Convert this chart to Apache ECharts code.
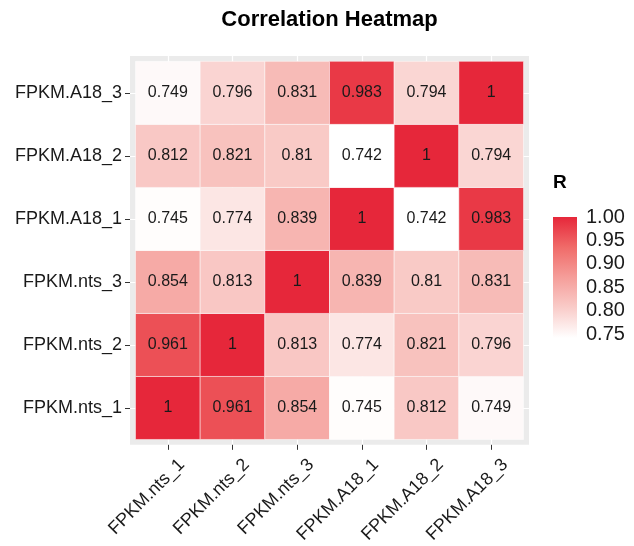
<!DOCTYPE html>
<html>
<head>
<meta charset="utf-8">
<script src="https://cdn.jsdelivr.net/npm/echarts@6/dist/echarts.min.js"></script>
<style>
  html, body { margin: 0; padding: 0; background: #ffffff; }
  #chart { width: 634px; height: 546px; }
</style>
</head>
<body>
<div id="chart"></div>
<script>
// Sample names, in axis order (bottom-to-top on y, left-to-right on x)
const samples = ['FPKM.nts_1', 'FPKM.nts_2', 'FPKM.nts_3', 'FPKM.A18_1', 'FPKM.A18_2', 'FPKM.A18_3'];

// Pearson correlation matrix, one row per sample
const corrNts1 = [1, 0.961, 0.854, 0.745, 0.812, 0.749];
const corrNts2 = [0.961, 1, 0.813, 0.774, 0.821, 0.796];
const corrNts3 = [0.854, 0.813, 1, 0.839, 0.81, 0.831];
const corrA181 = [0.745, 0.774, 0.839, 1, 0.742, 0.983];
const corrA182 = [0.812, 0.821, 0.81, 0.742, 1, 0.794];
const corrA183 = [0.749, 0.796, 0.831, 0.983, 0.794, 1];

// Colour scale
const scaleLimits = [0.742, 1];
const palette = ['#ffffff', '#f9ccc9', '#f59e9a', '#f06b69', '#e6273a'];
const legendTicks = [0.75, 0.80, 0.85, 0.90, 0.95, 1.00];

const FONT = '"Liberation Sans", Arial, Helvetica, sans-serif';
const TEXT = '#1a1a1a';

const rows = [corrNts1, corrNts2, corrNts3, corrA181, corrA182, corrA183];
const cells = [];
rows.forEach((row, yi) => row.forEach((v, xi) => cells.push([xi, yi, v])));

const idx = samples.map((_, i) => i);
const pad = 0.585;        // panel expansion around the tiles
const labelShift = 0.216; // rotated x labels sit a little right of their ticks

const chart = echarts.init(document.getElementById('chart'), null, { renderer: 'canvas' });

const barGradient = new echarts.graphic.LinearGradient(0, 1, 0, 0,
  palette.map((c, i) => ({ offset: i / (palette.length - 1), color: c })));

chart.setOption({
  animation: false,
  backgroundColor: '#ffffff',
  graphic: [
    { type: 'text', x: 329.5, y: 20,
      style: { text: 'Correlation Heatmap', align: 'center', verticalAlign: 'middle',
               font: 'bold 22px ' + FONT, fill: '#000' } },
    { type: 'text', x: 553, y: 183,
      style: { text: 'R', align: 'left', verticalAlign: 'middle',
               font: 'bold 19px ' + FONT, fill: '#000' } }
  ],
  grid: [
    { left: 130, top: 56, width: 399, height: 396, show: true,
      backgroundColor: '#ebebeb', borderWidth: 0 },
    { left: 553, top: 217, width: 24, height: 121, show: false }
  ],
  visualMap: {
    type: 'continuous', show: false, seriesIndex: 0, dimension: 2,
    min: scaleLimits[0], max: scaleLimits[1],
    inRange: { color: palette }
  },
  xAxis: [
    { type: 'value', gridIndex: 0, position: 'bottom', min: -pad, max: samples.length - 1 + pad,
      axisLine: { show: false, onZero: false },
      axisTick: { show: true, customValues: idx, length: 5, lineStyle: { color: '#333', width: 1 } },
      axisLabel: { show: false },
      splitLine: { show: true, lineStyle: { color: '#ffffff', width: 1.2 } } },
    { type: 'value', gridIndex: 0, position: 'bottom', offset: 0,
      min: -pad - labelShift, max: samples.length - 1 + pad - labelShift,
      axisLine: { show: false, onZero: false }, axisTick: { show: false }, splitLine: { show: false },
      axisLabel: { show: true, customValues: idx, rotate: 45, margin: 17,
                   formatter: v => samples[Math.round(v)],
                   fontSize: 18, fontFamily: FONT, color: TEXT } },
    { type: 'category', gridIndex: 1, data: ['R'], show: false }
  ],
  yAxis: [
    { type: 'value', gridIndex: 0, position: 'left', min: -pad, max: samples.length - 1 + pad,
      axisLine: { show: false, onZero: false },
      axisTick: { show: true, customValues: idx, length: 5, lineStyle: { color: '#333', width: 1 } },
      axisLabel: { show: true, customValues: idx, margin: 8,
                   formatter: v => samples[Math.round(v)],
                   fontSize: 18, fontFamily: FONT, color: TEXT },
      splitLine: { show: true, lineStyle: { color: '#ffffff', width: 1.2 } } },
    { type: 'value', gridIndex: 1, position: 'right', min: scaleLimits[0], max: scaleLimits[1],
      axisLine: { show: false, onZero: false }, splitLine: { show: false },
      axisTick: { show: true, inside: true, customValues: legendTicks, length: 5,
                  lineStyle: { color: '#ffffff', width: 1 } },
      axisLabel: { show: true, customValues: legendTicks, margin: 9,
                   formatter: v => v.toFixed(2),
                   fontSize: 20, fontFamily: FONT, color: TEXT } },
    { type: 'value', gridIndex: 1, position: 'left', min: scaleLimits[0], max: scaleLimits[1],
      axisLine: { show: false, onZero: false }, splitLine: { show: false }, axisLabel: { show: false },
      axisTick: { show: true, inside: true, customValues: legendTicks, length: 5,
                  lineStyle: { color: '#ffffff', width: 1 } } }
  ],
  series: [
    {
      type: 'custom', xAxisIndex: 0, yAxisIndex: 0,
      data: cells, encode: { x: 0, y: 1 },
      silent: true,
      renderItem: (params, api) => {
        const x = api.value(0), y = api.value(1), v = api.value(2);
        const p0 = api.coord([x - 0.5, y + 0.5]);
        const p1 = api.coord([x + 0.5, y - 0.5]);
        return {
          type: 'group',
          children: [
            { type: 'rect',
              shape: { x: p0[0], y: p0[1], width: p1[0] - p0[0], height: p1[1] - p0[1] },
              style: { fill: api.visual('color'), stroke: 'rgba(255,255,255,0.7)', lineWidth: 0.7 } },
            { type: 'text',
              style: { text: String(v), x: (p0[0] + p1[0]) / 2, y: (p0[1] + p1[1]) / 2,
                       align: 'center', verticalAlign: 'middle',
                       font: '16px ' + FONT, fill: TEXT } }
          ]
        };
      }
    },
    // colour bar: an invisible base up to the lower limit, then the gradient span
    { type: 'bar', xAxisIndex: 2, yAxisIndex: 1, stack: 'bar', barWidth: '100%', silent: true,
      data: [scaleLimits[0]], itemStyle: { color: 'rgba(0,0,0,0)' } },
    { type: 'bar', xAxisIndex: 2, yAxisIndex: 1, stack: 'bar', barWidth: '100%', silent: true,
      data: [scaleLimits[1] - scaleLimits[0]], itemStyle: { color: barGradient } }
  ]
});
</script>
</body>
</html>
